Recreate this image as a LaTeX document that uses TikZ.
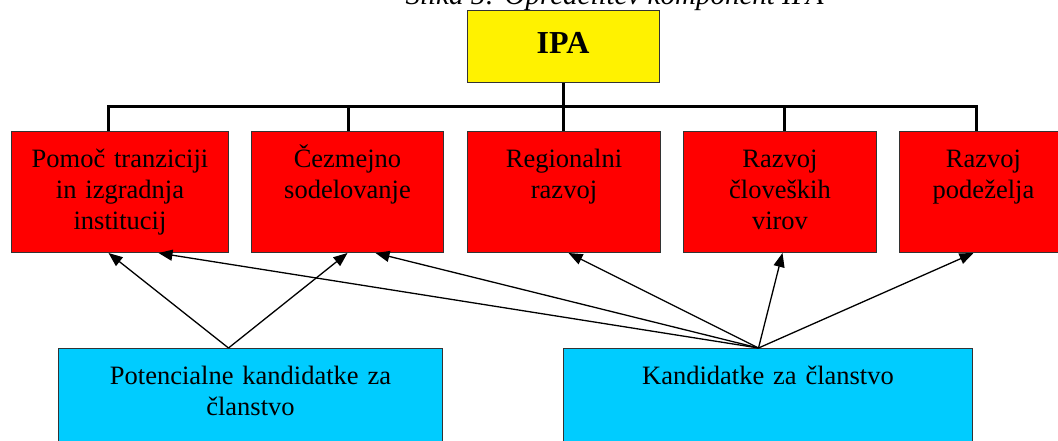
\documentclass[tikz,border=0pt]{standalone}
\usepackage{fontspec}
\setmainfont{Liberation Serif}
\usetikzlibrary{arrows.meta}
\definecolor{candblue}{RGB}{0,204,255}
\newcommand{\boxfont}{\fontsize{26.5}{31}\selectfont}

\begin{document}
\begin{tikzpicture}[x=1pt,y=-1pt,
  box/.style={draw=black!80,line width=1pt,inner sep=0pt,align=center,font=\boxfont},
  redbox/.style={box,fill=red,anchor=north west,text height=36pt,text depth=85pt},
  bluebox/.style={box,fill=candblue,anchor=north west,text height=35.5pt,text depth=90pt},
  bus/.style={line width=3pt},
  arr/.style={line width=1.3pt,-{Triangle[length=14pt,width=11pt]}}]
  \useasboundingbox (0,0) rectangle (1058,441);
  \node[anchor=base west,font=\itshape\fontsize{29}{34}\selectfont] (cap) at (402,5) {Slika 5: Opredelitev komponent IPA};
  \node[box,fill=yellow,minimum width=192pt,minimum height=72pt,
    font=\bfseries\fontsize{32}{38}\selectfont,text height=21pt,text depth=8.5pt] (ipa) at (563,47) {IPA};
  \node[redbox,text width=217pt] (r1) at (11,131) {Pomoč tranziciji\\in izgradnja\\institucij};
  \node[redbox,text width=192pt] (r2) at (251,131) {Čezmejno\\sodelovanje};
  \node[redbox,text width=193pt] (r3) at (467,131) {Regionalni\\razvoj};
  \node[redbox,text width=193pt] (r4) at (683,131) {Razvoj\\človeških\\virov};
  \node[redbox,text width=168pt] (r5) at (899,131) {Razvoj\\podeželja};
  \node[bluebox,text width=384pt] (pk) at (58,348) {Potencialne kandidatke za\\članstvo};
  \node[bluebox,text width=409pt] (kz) at (563,348) {Kandidatke za članstvo};
  \coordinate (b1) at (108,107);
  \coordinate (b2) at (348,107);
  \coordinate (b3) at (563,107);
  \coordinate (b4) at (784,107);
  \coordinate (b5) at (976,107);
  \draw[bus] (b1 |- r1.north) -- (b1) -- (b5) -- (b5 |- r5.north);
  \draw[bus] (ipa.south) -- (b3 |- r3.north);
  \foreach \i in {2,4}
    \draw[bus] (b\i) -- (b\i |- r\i.north);
  \coordinate (pk-out) at ([xshift=-22pt]pk.north);
  \coordinate (kz-out) at ([xshift=-9.5pt]kz.north);
  \draw[arr] (pk-out) -- ([xshift=-11.5pt]r1.south);
  \draw[arr] (pk-out) -- (r2.south);
  \foreach \n/\dx in {r1/38.5,r2/28,r3/4.5,r4/2.5,r5/-10}
    \draw[arr] (kz-out) -- ([xshift=\dx pt]\n.south);
\end{tikzpicture}
\end{document}
